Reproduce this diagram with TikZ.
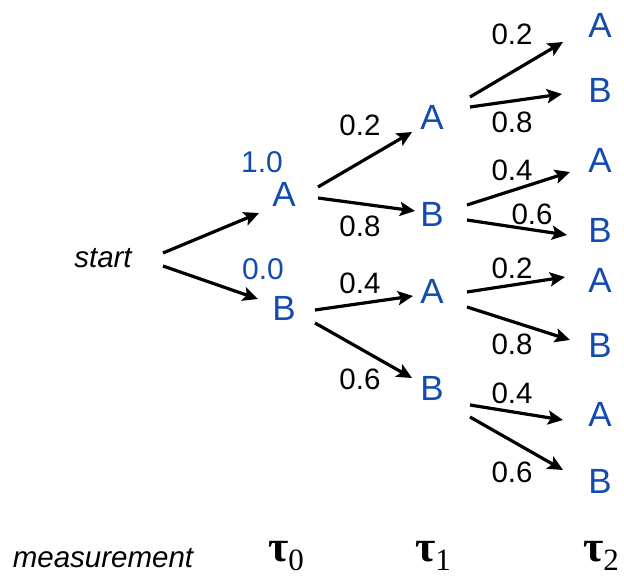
\documentclass[tikz,border=0pt]{standalone}
\usepackage{fontspec}
\setmainfont{Liberation Sans}
\newfontfamily\taufont{Liberation Serif}
\usetikzlibrary{arrows.meta}
\definecolor{stateblue}{RGB}{20,75,175}

\begin{document}
\begin{tikzpicture}[
    x=1pt, y=-1pt,
    state/.style={text=stateblue, inner sep=0pt, font=\fontsize{35}{35}\selectfont},
    prior/.style={text=stateblue, inner sep=0pt, font=\fontsize{30}{30}\selectfont},
    prob/.style={inner sep=0pt, font=\fontsize{29.5}{30}\selectfont},
    lbl/.style={inner sep=0pt, font=\fontsize{29.5}{30}\selectfont\itshape},
    tau/.style={inner sep=0pt, anchor=base west, font=\taufont\fontsize{44}{44}\selectfont},
    arr/.style={line width=3.2pt, -{Stealth[length=15pt, width=14pt, inset=3pt]}}
]
\useasboundingbox (0,0) rectangle (624,577);

    \node[lbl] (start) at (103,258) {start};

    % tau_0 layer
    \node[state] (a) at (284,194) {A};
    \node[state] (b) at (284,308) {B};
    \node[prior] (pa) at (262,162) {1.0};
    \node[prior] (pb) at (263,269) {0.0};

    % tau_1 layer
    \node[state] (aa) at (432,117) {A};
    \node[state] (ab) at (432,214) {B};
    \node[state] (ba) at (432,291) {A};
    \node[state] (bb) at (432,388) {B};

    % tau_2 layer
    \foreach \n/\y/\s in {aaa/25/A, aab/90/B, aba/160/A, abb/230/B, baa/280/A, bab/345/B, bba/414/A, bbb/481/B}
        \node[state] (\n) at (600,\y) {\s};

    \draw[arr] ([shift={(60,-5)}]start.center) -- ([shift={(-25,19)}]a.center);
    \draw[arr] ([shift={(60,8)}]start.center) -- ([shift={(-26,-9)}]b.center);

    \draw[arr] ([shift={(34,-7)}]a.center) --node[prob, midway, xshift=-5pt, yshift=34.5pt] {0.2} ([shift={(-20,15)}]aa.center);
    \draw[arr] ([shift={(34,4)}]a.center) --node[prob, midway, xshift=-6.5pt, yshift=-21.5pt] {0.8} ([shift={(-17,-3)}]ab.center);
    \draw[arr] ([shift={(31,2)}]b.center) --node[prob, midway, xshift=-4pt, yshift=20pt] {0.4} ([shift={(-19,5)}]ba.center);
    \draw[arr] ([shift={(31,15)}]b.center) --node[prob, midway, xshift=-3.5pt, yshift=-28.5pt] {0.6} ([shift={(-20,-10)}]bb.center);

    \draw[arr] ([shift={(38,-20)}]aa.center) --node[prob, midway, xshift=-4.5pt, yshift=35.5pt] {0.2} ([shift={(-37,17)}]aaa.center);
    \draw[arr] ([shift={(38,-10)}]aa.center) --node[prob, midway, xshift=-4pt, yshift=-21.5pt] {0.8} ([shift={(-38,4)}]aab.center);
    \draw[arr] ([shift={(35,-9)}]ab.center) --node[prob, midway, xshift=-6.5pt, yshift=18.5pt] {0.4} ([shift={(-30,12)}]aba.center);
    \draw[arr] ([shift={(35,6)}]ab.center) --node[prob, midway, xshift=15pt, yshift=13.5pt] {0.6} ([shift={(-33,5)}]abb.center);
    \draw[arr] ([shift={(35,1)}]ba.center) --node[prob, midway, xshift=-4pt, yshift=16.5pt] {0.2} ([shift={(-35,-3)}]baa.center);
    \draw[arr] ([shift={(35,16)}]ba.center) --node[prob, midway, xshift=-6.5pt, yshift=-20.5pt] {0.8} ([shift={(-30,-5)}]bab.center);
    \draw[arr] ([shift={(38,17)}]bb.center) --node[prob, midway, xshift=-4.5pt, yshift=19.5pt] {0.4} ([shift={(-37,6)}]bba.center);
    \draw[arr] ([shift={(38,29)}]bb.center) --node[prob, midway, xshift=-4.5pt, yshift=-28.5pt] {0.6} ([shift={(-37,-11)}]bbb.center);

    % measurement row
    \node[lbl, anchor=base] (meas) at (103,567) {measurement};
    \node[tau] (t0) at (268,561) {\textbf{τ}\raisebox{-9pt}{\fontsize{31}{31}\selectfont 0}};
    \node[tau] (t1) at (415,561) {\textbf{τ}\raisebox{-9pt}{\fontsize{31}{31}\selectfont 1}};
    \node[tau] (t2) at (583,561) {\textbf{τ}\raisebox{-9pt}{\fontsize{31}{31}\selectfont 2}};

\end{tikzpicture}
\end{document}
